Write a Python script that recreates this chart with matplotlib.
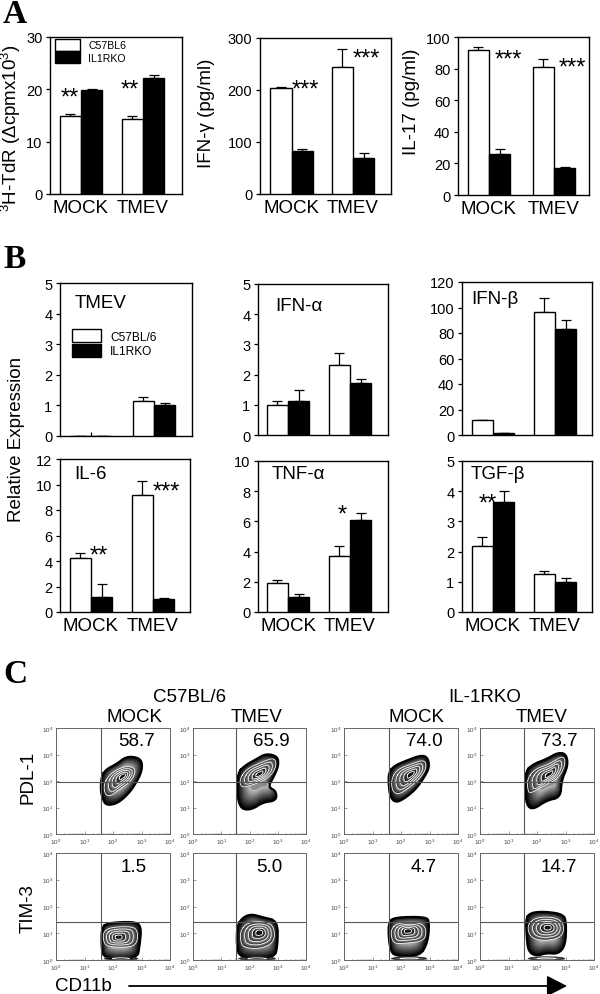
import numpy as np
import matplotlib
matplotlib.use("Agg")
import matplotlib.pyplot as plt
from matplotlib.ticker import LogLocator, NullFormatter, LogFormatterMathtext

plt.rcParams['font.family'] = ['Liberation Sans', 'DejaVu Sans']
plt.rcParams['mathtext.fontset'] = 'custom'
plt.rcParams['mathtext.rm'] = 'Liberation Sans'
plt.rcParams['mathtext.default'] = 'regular'

W, H = 600, 995
GROUPS = ['MOCK', 'TMEV']
WT_LABEL_A, KO_LABEL_A = 'C57BL6', 'IL1RKO'
WT_LABEL_B, KO_LABEL_B = 'C57BL/6', 'IL1RKO'

# Panel A values: [MOCK, TMEV]
tdr_wt, tdr_wt_err = [14.9, 14.3], [0.3, 0.6]
tdr_ko, tdr_ko_err = [19.8, 22.2], [0.2, 0.6]
ifng_wt, ifng_wt_err = [203, 245], [3, 33]
ifng_ko, ifng_ko_err = [82, 69], [5, 10]
il17_wt, il17_wt_err = [92, 81], [1.8, 5]
il17_ko, il17_ko_err = [26, 17.3], [2.8, 0.5]

# Panel B values
tmev_wt, tmev_wt_err = [0, 1.14], [0, 0.14]
tmev_ko, tmev_ko_err = [0, 1.0], [0, 0.08]
tmev_mock_stem = 0.12
ifna_wt, ifna_wt_err = [1.0, 2.32], [0.13, 0.4]
ifna_ko, ifna_ko_err = [1.14, 1.72], [0.36, 0.13]
ifnb_wt, ifnb_wt_err = [12, 96.5], [0, 11]
ifnb_ko, ifnb_ko_err = [1.5, 83.5], [0, 6.5]
il6_wt, il6_wt_err = [4.25, 9.2], [0.4, 1.1]
il6_ko, il6_ko_err = [1.2, 1.0], [1.0, 0.1]
tnfa_wt, tnfa_wt_err = [1.9, 3.7], [0.2, 0.65]
tnfa_ko, tnfa_ko_err = [1.0, 6.1], [0.18, 0.45]
tgfb_wt, tgfb_wt_err = [2.17, 1.27], [0.33, 0.1]
tgfb_ko, tgfb_ko_err = [3.63, 1.0], [0.37, 0.13]

# Panel C: percentages and population outlines (log10 x, log10 y)
pct_labels = ['58.7', '65.9', '74.0', '73.7', '1.5', '5.0', '4.7', '14.7']
outline_x = [
    [1.60, 1.77, 2.12, 2.47, 2.88, 3.03, 3.00, 2.82, 2.59, 2.18, 1.77, 1.63, 1.56],
    [1.60, 1.83, 2.24, 2.59, 3.00, 3.03, 2.88, 2.65, 2.94, 2.96, 2.47, 2.12, 1.77, 1.60, 1.56],
    [1.57, 1.77, 2.18, 2.71, 2.94, 3.00, 2.82, 2.53, 2.18, 1.83, 1.62, 1.56],
    [1.61, 1.87, 2.33, 2.74, 3.03, 3.09, 2.86, 2.83, 2.33, 1.87, 1.63, 1.57],
    [1.60, 1.83, 2.70, 3.00, 2.94, 2.85, 1.66, 1.59],
    [1.56, 1.77, 2.06, 2.47, 3.00, 3.00, 2.88, 1.66, 1.54],
    [1.57, 1.77, 2.88, 3.00, 2.94, 2.67, 1.77, 1.62, 1.56],
    [1.61, 1.75, 2.22, 2.92, 3.03, 3.00, 2.74, 2.33, 1.98, 1.69, 1.63],
]
outline_y = [
    [2.20, 2.45, 2.64, 2.93, 2.89, 2.70, 2.33, 1.95, 1.57, 1.16, 1.07, 1.32, 1.70],
    [2.33, 2.58, 2.83, 3.04, 2.93, 2.58, 2.20, 1.76, 1.64, 1.26, 1.19, 0.94, 0.91, 1.19, 1.82],
    [2.33, 2.58, 2.77, 2.98, 2.89, 2.52, 2.14, 1.70, 1.38, 1.17, 1.38, 1.89],
    [2.39, 2.64, 2.83, 3.08, 3.02, 2.58, 2.01, 1.38, 1.26, 0.92, 1.07, 1.82],
    [1.22, 1.39, 1.44, 1.29, 0.54, 0.04, 0.04, 0.54],
    [1.29, 1.60, 1.72, 1.60, 1.47, 0.54, 0.06, 0.06, 0.54],
    [1.41, 1.60, 1.62, 1.41, 0.66, 0.14, 0.14, 0.41, 0.91],
    [1.54, 1.76, 1.82, 1.72, 1.41, 0.54, 0.22, 0.26, 0.14, 0.31, 0.91],
]
inner_x = [
    [1.68, 1.89, 2.30, 2.65, 2.80, 2.65, 2.24, 1.89, 1.71],
    [1.66, 1.89, 2.41, 2.88, 2.96, 2.76, 2.36, 1.83, 1.68],
    [1.66, 1.89, 2.36, 2.82, 2.90, 2.70, 2.30, 1.89, 1.69],
    [1.66, 1.92, 2.45, 2.92, 3.01, 2.74, 2.22, 1.75, 1.67],
    [1.66, 1.89, 2.70, 2.88, 2.82, 2.35, 1.77, 1.66],
    [1.68, 1.94, 2.59, 2.88, 2.88, 2.36, 1.77, 1.68],
    [1.66, 1.89, 2.65, 2.90, 2.82, 2.30, 1.77, 1.66],
    [1.69, 1.98, 2.68, 2.97, 2.86, 2.33, 1.87, 1.69],
]
inner_y = [
    [1.89, 2.26, 2.52, 2.55, 2.39, 2.01, 1.70, 1.41, 1.51],
    [2.08, 2.45, 2.70, 2.89, 2.58, 2.20, 1.95, 1.76, 1.82],
    [2.08, 2.45, 2.64, 2.81, 2.52, 2.14, 1.76, 1.47, 1.64],
    [2.08, 2.45, 2.64, 2.98, 2.64, 2.08, 1.82, 1.51, 1.70],
    [1.04, 1.22, 1.26, 1.04, 0.54, 0.47, 0.51, 0.72],
    [1.10, 1.41, 1.44, 1.22, 0.66, 0.41, 0.47, 0.72],
    [1.16, 1.39, 1.41, 1.16, 0.72, 0.64, 0.60, 0.85],
    [1.35, 1.60, 1.60, 1.29, 0.85, 0.72, 0.79, 1.04],
]
peak_x = [2.36, 2.36, 2.36, 2.45, 2.18, 2.36, 2.24, 2.39]
peak_y = [2.20, 2.26, 2.26, 2.26, 0.85, 1.04, 1.10, 1.22]
floor_lo = [None, None, None, None, 1.62, 1.55, 1.60, 1.62]
floor_hi = [None, None, None, None, 2.95, 3.00, 2.98, 3.05]

fig = plt.figure(figsize=(W / 100, H / 100), dpi=100, facecolor='white')


def axes_px(l, t, r, b):
    return fig.add_axes([l / W, 1 - b / H, (r - l) / W, (b - t) / H])


def text_px(x, y, s, size=13.5, **kw):
    kw.setdefault('ha', 'center')
    kw.setdefault('va', 'center')
    fig.text(x / W, 1 - y / H, s, fontsize=size, **kw)


def stars(x, y, s):
    # y is the visual centre of the asterisk row
    fig.text(x / W, 1 - (y + 15.5) / H, s, fontsize=17, ha='center', va='baseline')


def bar_panel(box, centers, ylim, yticks, wt, wte, ko, koe, xlabels=True, labels=None):
    l, t, r, b = box
    c0, c1 = centers
    step = c1 - c0
    ax = axes_px(*box)
    x = np.arange(len(GROUPS))
    w = 21.3 / step
    ax.errorbar(x - w / 2, wt, yerr=[np.zeros(2), wte], fmt='none', ecolor='k',
                elinewidth=0.9, capsize=3.4, capthick=0.9, zorder=2)
    ax.errorbar(x + w / 2, ko, yerr=[np.zeros(2), koe], fmt='none', ecolor='k',
                elinewidth=0.9, capsize=3.4, capthick=0.9, zorder=2)
    la, lb = labels if labels else (None, None)
    ax.bar(x - w / 2, wt, w, color='white', edgecolor='k', linewidth=1.0, zorder=3, label=la)
    ax.bar(x + w / 2, ko, w, color='k', edgecolor='k', linewidth=1.0, zorder=3, label=lb)
    ax.set_xlim((l - c0) / step, (r - c0) / step)
    ax.set_ylim(*ylim)
    ax.set_yticks(yticks)
    ax.tick_params(axis='y', length=3, width=0.9, labelsize=10.5, pad=2.5)
    if xlabels:
        ax.set_xticks(x, GROUPS)
        ax.tick_params(axis='x', length=0, labelsize=13.5, pad=3.5)
    else:
        ax.set_xticks([])
    for s in ax.spines.values():
        s.set_linewidth(1.0)
    return ax


# ---- Panel A ----
ax = bar_panel((50, 38, 182, 195), (81, 143), (0, 30), [0, 10, 20, 30],
               tdr_wt, tdr_wt_err, tdr_ko, tdr_ko_err, labels=(WT_LABEL_A, KO_LABEL_A))
ax.legend(loc='upper left', bbox_to_anchor=(5 / 132, 1 - 2 / 157), frameon=False, fontsize=7.6,
          handlelength=2.4, handleheight=1.35, labelspacing=0.05, handletextpad=0.75,
          borderpad=0, borderaxespad=0)
bar_panel((260, 39, 391, 195), (291.7, 353), (0, 300), [0, 100, 200, 300],
          ifng_wt, ifng_wt_err, ifng_ko, ifng_ko_err)
bar_panel((458, 38, 589, 196), (489, 554), (0, 100), [0, 20, 40, 60, 80, 100],
          il17_wt, il17_wt_err, il17_ko, il17_ko_err)

text_px(11, 128, '$^{3}$H-TdR (Δcpmx10$^{3}$)', rotation=90)
text_px(207, 113, 'IFN-γ (pg/ml)', rotation=90)
text_px(412, 102, 'IL-17 (pg/ml)', rotation=90)
stars(70, 89, '**')
stars(130, 81, '**')
stars(305, 81, '***')
stars(366, 50, '***')
stars(508, 51, '***')
stars(572, 59, '***')

# ---- Panel B ----
ax = bar_panel((60, 284, 192, 437), (91, 154), (0, 5), range(6),
               tmev_wt, tmev_wt_err, tmev_ko, tmev_ko_err, xlabels=False,
               labels=(WT_LABEL_B, KO_LABEL_B))
ax.vlines(0, 0, tmev_mock_stem, color='k', lw=0.9, zorder=5)
ax.legend(loc='upper left', bbox_to_anchor=(12 / 132, 1 - 46 / 153), frameon=False, fontsize=8.6,
          handlelength=2.4, handleheight=1.3, labelspacing=0.12, handletextpad=0.8,
          borderpad=0, borderaxespad=0)
bar_panel((258, 285, 388, 436), (288, 350), (0, 5), range(6),
          ifna_wt, ifna_wt_err, ifna_ko, ifna_ko_err, xlabels=False)
bar_panel((462, 283, 592, 436), (493, 555), (0, 120), range(0, 121, 20),
          ifnb_wt, ifnb_wt_err, ifnb_ko, ifnb_ko_err, xlabels=False)
bar_panel((60, 460, 190, 613), (91, 153), (0, 12), range(0, 13, 2),
          il6_wt, il6_wt_err, il6_ko, il6_ko_err)
bar_panel((258, 462, 388, 613), (288, 350), (0, 10), range(0, 11, 2),
          tnfa_wt, tnfa_wt_err, tnfa_ko, tnfa_ko_err)
bar_panel((462, 462, 592, 613), (493, 555), (0, 5), range(6),
          tgfb_wt, tgfb_wt_err, tgfb_ko, tgfb_ko_err)

text_px(101, 303, 'TMEV')
text_px(299, 307, 'IFN-α')
text_px(495, 300, 'IFN-β')
text_px(91, 475, 'IL-6')
text_px(298, 475, 'TNF-α')
text_px(498, 475, 'TGF-β')
text_px(17, 439, 'Relative Expression', rotation=90)
stars(99, 547, '**')
stars(166, 483, '***')
stars(342, 506, '*')
stars(488, 495, '**')

# ---- Panel C ----
OUTER_BANDS = [(1.00, 0.45, 0.0, 0.78), (0.45, 0.0, 0.55, 0.55)]
INNER_BANDS = [(1.00, 0.78, 0.15, 0.55), (0.78, 0.58, 0.18, 0.6), (0.58, 0.38, 0.12, 0.6),
               (0.38, 0.20, 0.05, 0.35), (0.20, 0.0, 0.0, 0.15)]
FLOOR_BANDS = [(1.00, 0.5, 0.1, 0.65), (0.5, 0.0, 0.5, 0.7)]


def chaikin(px, py, n=2):
    p = np.column_stack([px, py])
    for _ in range(n):
        q = np.roll(p, -1, axis=0)
        p = np.column_stack([0.75 * p + 0.25 * q, 0.25 * p + 0.75 * q]).reshape(-1, 2)
    return p


def zebra(ax, p, cx, cy, bands, steps=9, edge=1.5, edge_color='k', lines=True, z=2):
    c = np.array([cx, cy])
    for hi, lo, g0, g1 in bands:
        for t in np.linspace(0, 1, steps, endpoint=False):
            f = hi + (lo - hi) * t
            q = c + (p - c) * f
            ax.fill(10 ** q[:, 0], 10 ** q[:, 1], color=str(g0 + (g1 - g0) * t), lw=0, zorder=z)
    if lines:
        for hi, lo, *_ in bands[1:]:
            q = c + (p - c) * hi
            q = np.vstack([q, q[:1]])
            ax.plot(10 ** q[:, 0], 10 ** q[:, 1], color='white', lw=0.6, zorder=z + 0.5)
    q = np.vstack([p, p[:1]])
    ax.plot(10 ** q[:, 0], 10 ** q[:, 1], color=edge_color, lw=edge, zorder=z + 0.5)


col_px = [(56, 170, 101), (193, 306, 236), (344, 458, 389), (480, 594, 524)]
row_px = [(729, 835, 783), (854, 961, 923)]
pct_pos = [(137, 741), (271, 741), (424, 741), (559, 741), (134, 867), (269, 867), (424, 867), (559, 867)]
for i in range(8):
    cl, cr, vx = col_px[i % 4]
    rt, rb, hy = row_px[i // 4]
    ax = axes_px(cl, rt, cr, rb)
    ax.set_xscale('log')
    ax.set_yscale('log')
    ax.set_xlim(1, 1e4)
    ax.set_ylim(1, 1e4)
    zebra(ax, chaikin(outline_x[i], outline_y[i]), peak_x[i], peak_y[i], OUTER_BANDS, steps=14, lines=False)
    zebra(ax, chaikin(inner_x[i], inner_y[i]), peak_x[i], peak_y[i], INNER_BANDS,
          steps=7, edge=0.6, edge_color='white', z=3)
    if floor_lo[i] is not None:
        a, b = floor_lo[i], floor_hi[i]
        fx = [a, a + 0.2, b - 0.2, b]
        fy = [0.01, 0.12, 0.12, 0.01]
        zebra(ax, chaikin(fx, fy), (a + b) / 2, 0.04, FLOOR_BANDS, steps=5, edge=0.5, edge_color='#333333')
    ax.axvline(10 ** ((vx - cl) / (cr - cl) * 4), color='#555555', lw=0.8, zorder=5)
    ax.axhline(10 ** ((rb - hy) / (rb - rt) * 4), color='#555555', lw=0.8, zorder=5)
    for s in ax.spines.values():
        s.set_linewidth(0.7)
        s.set_color('#666666')
    for a_ in (ax.xaxis, ax.yaxis):
        a_.set_major_locator(LogLocator(base=10, numticks=6))
        a_.set_minor_locator(LogLocator(base=10, subs=np.arange(2, 10), numticks=6))
        a_.set_minor_formatter(NullFormatter())
        a_.set_major_formatter(LogFormatterMathtext())
    ax.tick_params(which='major', direction='in', length=2, width=0.4, color='#555555',
                   labelsize=4.5, labelcolor='#444444', pad=2)
    ax.tick_params(which='minor', direction='in', length=1, width=0.3, color='#555555')
    text_px(*pct_pos[i], pct_labels[i])

text_px(190, 698, 'C57BL/6')
text_px(135, 718, 'MOCK')
text_px(257, 718, 'TMEV')
text_px(485, 698, 'IL-1RKO')
text_px(417, 718, 'MOCK')
text_px(542, 718, 'TMEV')
text_px(28, 777, 'PDL-1', rotation=90)
text_px(28, 909, 'TIM-3', rotation=90)
text_px(83, 987, 'CD11b')
fig.add_artist(matplotlib.patches.FancyArrowPatch(
    (129 / W, 1 - 987 / H), (567 / W, 1 - 987 / H), transform=fig.transFigure,
    arrowstyle='-|>,head_length=0.62,head_width=0.32', mutation_scale=20,
    color='k', lw=1.3, shrinkA=0, shrinkB=0))

# Panel letters
for s, y in zip('ABC', (23, 268, 683)):
    fig.text(3 / W, 1 - y / H, s, fontsize=24, fontweight='bold', ha='left', va='baseline',
             family=['Liberation Serif'])

fig.savefig('out.png', dpi=100)
